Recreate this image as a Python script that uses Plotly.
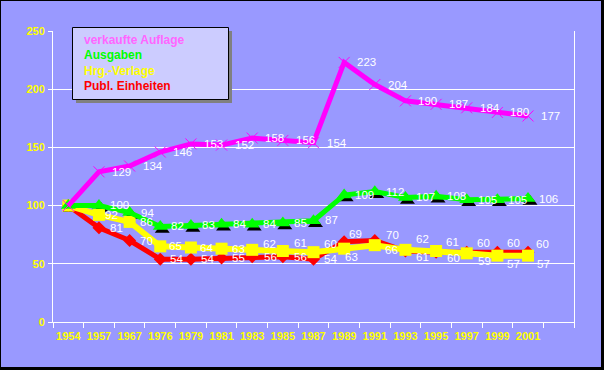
import plotly.graph_objects as go

years = ["1954", "1957", "1967", "1976", "1979", "1981", "1983", "1985",
         "1987", "1989", "1991", "1993", "1995", "1997", "1999", "2001"]
auflage = [100, 129, 134, 146, 153, 152, 158, 156, 154, 223, 204, 190, 187, 184, 180, 177]
ausgaben = [100, 100, 94, 82, 83, 84, 84, 85, 87, 109, 112, 107, 108, 105, 105, 106]
verlage = [100, 92, 86, 65, 64, 63, 62, 61, 60, 63, 66, 62, 61, 59, 57, 57]
publ = [100, 81, 70, 54, 54, 55, 56, 56, 54, 69, 70, 61, 60, 60, 60, 60]
legend_names = ["verkaufte Auflage", "Ausgaben", "Hrg.-Verlage", "Publ. Einheiten"]
legend_colors = ["#FF66FF", "#00FF00", "#FFFF00", "#FF0000"]

# label placement (pixel offsets, style only)
dx_auflage = [11] * 16
dx_ausgaben = [9] * 16
dy_ausgaben = [0, -1, 0, -1, 0, 0, 0, 0, -1, 0, 0, 0, 0, 0, 0, 0]
dx_verlage = [8, 4, 8, 7, 7, 8, 9, 9, 8, -1, 8, 9, 8, 9, 8, 7]
dy_verlage = [0, 0, 0, 0, 0, 0, -6, -8, -8, 8, 5, -11, -9, 8, 8, 8]
dx_publ = [8, 9, 8, 8, 8, 8, 10, 9, 8, 3, 9, 9, 9, 8, 8, 6]
dy_publ = [0, 0, 0, 0, 0, 0, 0, 0, 0, -8, -6, 6, 6, -9, -9, -8]

W, H = 604, 370
L, R, T, B = 53, 30, 31, 48
PW, PH = W - L - R, H - T - B
BG = "#9999FF"
FONT = "Arial, Liberation Sans, sans-serif"

idx = list(range(len(years)))
nslots = len(years) + 1
xr = [-0.5, nslots - 0.5]
yr = [0, 250]


def px2paper(px, py):
    return (px - L) / PW, (H - B - py) / PH


fig = go.Figure()

# shadow of green triangles (on shifted base axes)
sx = 2 * (xr[1] - xr[0]) / PW
sy = 3 * (yr[1] - yr[0]) / PH
fig.add_trace(go.Scatter(x=idx, y=ausgaben, mode="markers", xaxis="x", yaxis="y",
                         marker=dict(symbol="triangle-up", size=13, color="black"),
                         showlegend=False, hoverinfo="skip"))

fig.add_trace(go.Scatter(x=idx, y=publ, mode="lines+markers", xaxis="x2", yaxis="y2",
                         line=dict(color="#FF0000", width=5),
                         marker=dict(symbol="diamond", size=10, color="#FF0000"),
                         showlegend=False))
fig.add_trace(go.Scatter(x=idx, y=verlage, mode="lines+markers", xaxis="x2", yaxis="y2",
                         line=dict(color="#FFFF00", width=6),
                         marker=dict(symbol="square", size=12, color="#FFFF00"),
                         showlegend=False))
fig.add_trace(go.Scatter(x=idx, y=ausgaben, mode="lines+markers", xaxis="x2", yaxis="y2",
                         line=dict(color="#00FF00", width=5),
                         marker=dict(symbol="triangle-up", size=13, color="#00FF00"),
                         showlegend=False))
fig.add_trace(go.Scatter(x=idx, y=auflage, mode="lines+markers", xaxis="x2", yaxis="y2",
                         line=dict(color="#FF00FF", width=5),
                         marker=dict(symbol="x-thin-open", size=11, color="#FF00FF",
                                     line=dict(color="#FF00FF", width=1)),
                         showlegend=False))

annotations = []
lab_font = dict(family=FONT, size=11.5, color="white")
for vals, dxs, dys in [(publ, dx_publ, dy_publ), (verlage, dx_verlage, dy_verlage),
                       (ausgaben, dx_ausgaben, dy_ausgaben), (auflage, dx_auflage, [0] * 16)]:
    for i in idx[1:]:
        annotations.append(dict(xref="x2", yref="y2", x=i, y=vals[i], text=str(vals[i]),
                                showarrow=False, xanchor="left", yanchor="middle",
                                xshift=dxs[i], yshift=-dys[i], font=lab_font))

shapes = []
x0, y0 = px2paper(1, 1)
x1, y1 = px2paper(601, 367)
shapes.append(dict(type="rect", xref="paper", yref="paper", x0=x0, y0=y0, x1=x1, y1=y1,
                   fillcolor=BG, line=dict(width=0), layer="below"))
a0, b0 = px2paper(76, 31)
a1, b1 = px2paper(232, 103)
shapes.append(dict(type="rect", xref="paper", yref="paper", x0=a0, y0=b0, x1=a1, y1=b1,
                   fillcolor="#808080", line=dict(width=0), layer="above"))
a0, b0 = px2paper(72.5, 27.5)
a1, b1 = px2paper(228.5, 99.5)
shapes.append(dict(type="rect", xref="paper", yref="paper", x0=a0, y0=b0, x1=a1, y1=b1,
                   fillcolor="#CCCCFF", line=dict(width=1, color="black"), layer="above"))

for k, (name, col) in enumerate(zip(legend_names, legend_colors)):
    ax_, ay_ = px2paper(82, 40 + k * 15.3)
    annotations.append(dict(xref="paper", yref="paper", x=ax_, y=ay_, text=name,
                            showarrow=False, xanchor="left", yanchor="middle",
                            font=dict(family=FONT, size=12, color=col, weight="bold")))

tick_font = dict(family=FONT, size=11, color="#FFFF00", weight="bold")

fig.update_layout(
    width=W, height=H,
    margin=dict(l=L, r=R, t=T, b=B, pad=0),
    paper_bgcolor="black", plot_bgcolor=BG,
    shapes=shapes, annotations=annotations,
    showlegend=False,
    xaxis=dict(range=[xr[0] - sx, xr[1] - sx], visible=False, fixedrange=True),
    yaxis=dict(range=[yr[0] + sy, yr[1] + sy], visible=False, fixedrange=True),
    xaxis2=dict(overlaying="x", range=xr, tickmode="array", tickvals=idx, ticktext=years,
                ticks="", showgrid=False, zeroline=False, showline=True, linecolor="white",
                linewidth=1, tickfont=tick_font, ticklabelstandoff=4,
                minor=dict(tickmode="array", tickvals=[i - 0.5 for i in range(nslots + 1)],
                           ticks="outside", ticklen=5, tickcolor="white", tickwidth=1,
                           showgrid=False),
                side="bottom", anchor="y2"),
    yaxis2=dict(overlaying="y", range=yr, tickmode="linear", tick0=0, dtick=50,
                ticks="outside", ticklen=4, tickcolor="white", showgrid=True,
                gridcolor="white", gridwidth=1, zeroline=False, showline=True,
                linecolor="white", linewidth=1, mirror=True, tickfont=tick_font,
                ticklabelstandoff=1, side="left", anchor="x2"),
)

fig.write_html("out.html", config={"displayModeBar": False},
               post_script="document.body.style.margin='0px';")
